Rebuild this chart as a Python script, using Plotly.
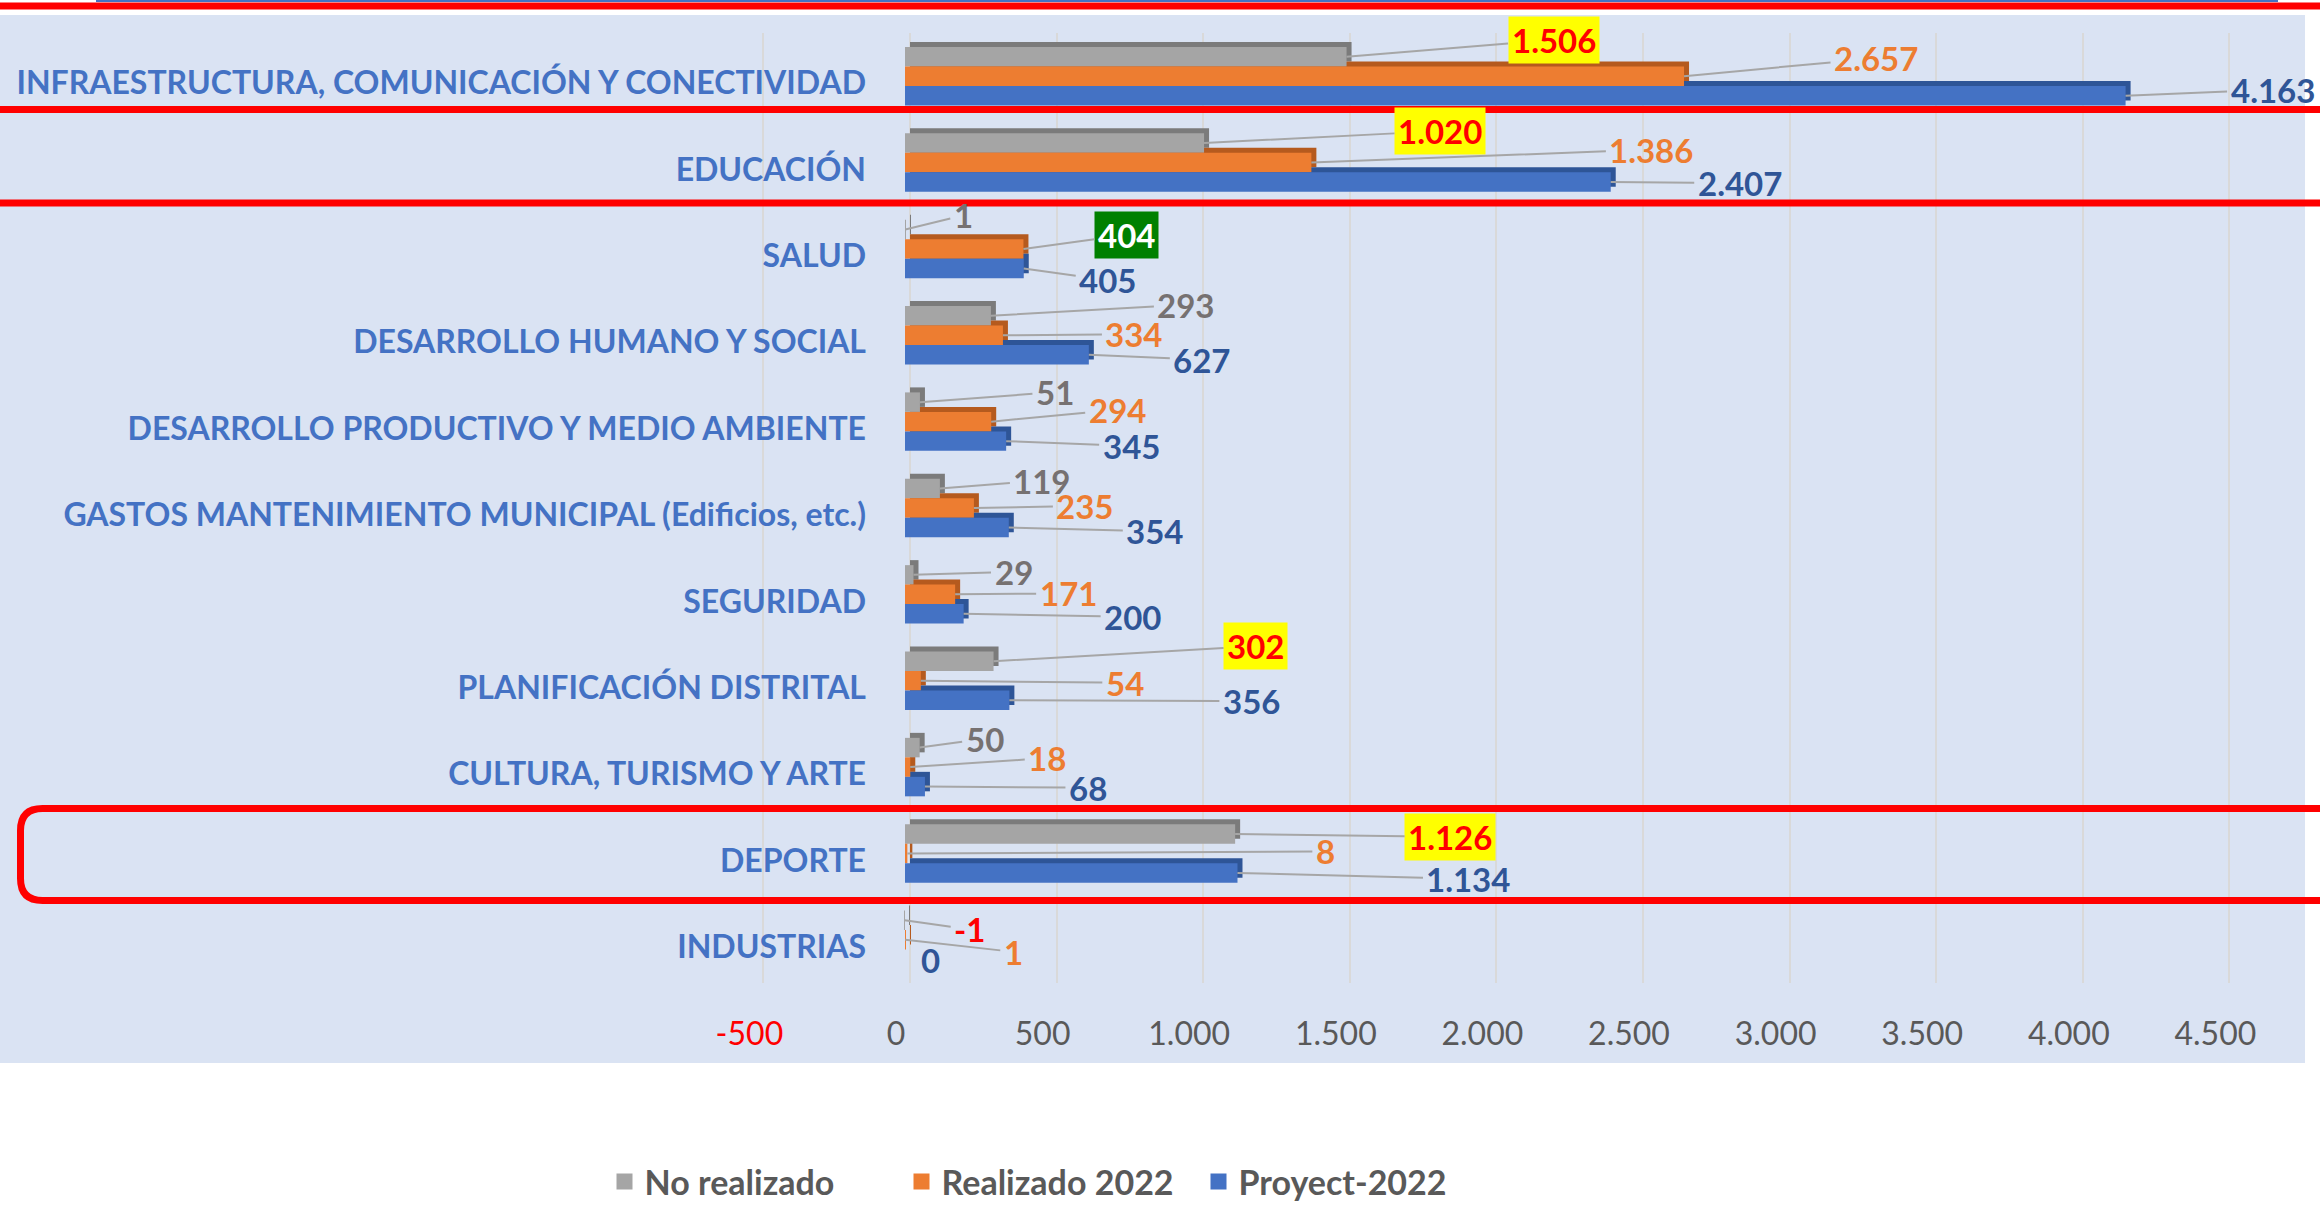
import plotly.graph_objects as go

# ---------------- data ----------------
categories = [
    "INFRAESTRUCTURA, COMUNICACIÓN Y CONECTIVIDAD",
    "EDUCACIÓN",
    "SALUD",
    "DESARROLLO HUMANO Y SOCIAL",
    "DESARROLLO PRODUCTIVO Y MEDIO AMBIENTE",
    "GASTOS MANTENIMIENTO MUNICIPAL (Edificios, etc.)",
    "SEGURIDAD",
    "PLANIFICACIÓN DISTRITAL",
    "CULTURA, TURISMO Y ARTE",
    "DEPORTE",
    "INDUSTRIAS",
]
no_realizado = [1506, 1020, 1, 293, 51, 119, 29, 302, 50, 1126, -1]
realizado_2022 = [2657, 1386, 404, 334, 294, 235, 171, 54, 18, 8, 1]
proyect_2022 = [4163, 2407, 405, 627, 345, 354, 200, 356, 68, 1134, 0]
series_names = ["No realizado", "Realizado 2022", "Proyect-2022"]
x_tickvals = [-500, 0, 500, 1000, 1500, 2000, 2500, 3000, 3500, 4000, 4500]

# ---------------- styling / placement ----------------
W, H = 2320, 1208
L, R, T, B = 0, 2305, 33, 983
ZERO_PX = 905
K = 146.6 / 500.0            # px per unit
CAT_PX = (B - T) / len(categories)
DEPTH = 5                    # 3D depth in px

front_colors = ["#A5A5A5", "#ED7D31", "#4472C4"]
side_colors = ["#7B7B7B", "#B55A1E", "#2E5597"]
label_colors = ["#767171", "#ED7D31", "#2F5597"]
FONT = "Lato"

# label offsets (px) from bar end: per series, per category
label_offsets = [
    [(207, -17), (236, -12), (58, -14), (195, -11), (135, -10), (102, -8), (100, -3), (262, -15), (65, -9), (215, 3), (65, 9)],
    [(192, -18), (340, -13), (103, -14), (131, -1), (126, -12), (111, -2), (113, -1), (204, 2), (137, -9), (418, -2), (108, 12)],
    [(147, -6), (129, 1), (84, 12), (113, 5), (125, 5), (146, 4), (169, 3), (242, 1), (163, 1), (231, 6), (25, 1)],
]
highlight = {
    (0, 0): "yellow", (0, 1): "yellow", (0, 7): "yellow", (0, 9): "yellow",
    (1, 2): "green", (0, 10): "red",
}
no_leader = {(2, 10)}

r0 = (L - ZERO_PX) / K
r1 = (R - ZERO_PX) / K
ysh = DEPTH / CAT_PX


def px_x(px):
    return (px - L) / (R - L)


def px_y(py):
    return (B - py) / (B - T)


def fmt(v):
    return f"{v:,}".replace(",", ".")


series = [no_realizado, realizado_2022, proyect_2022]

fig = go.Figure()

# 3D depth (shadow) bars on shifted axes
for i, vals in enumerate(series):
    fig.add_trace(go.Bar(
        x=vals, y=categories, orientation="h", xaxis="x", yaxis="y",
        marker=dict(color=side_colors[i], line=dict(width=0)),
        showlegend=False, hoverinfo="skip",
    ))

# front bars
for i, vals in enumerate(series):
    fig.add_trace(go.Bar(
        x=vals, y=categories, orientation="h", xaxis="x2", yaxis="y2",
        name=series_names[i], legendgroup=series_names[i], showlegend=False,
        marker=dict(color=front_colors[i], line=dict(width=0)),
    ))

# legend entries with larger square symbols
for i in range(3):
    fig.add_trace(go.Scatter(
        x=[None], y=[None], mode="markers", xaxis="x2", yaxis="y2",
        name=series_names[i], legendgroup=series_names[i],
        marker=dict(symbol="square", size=18, color=front_colors[i]),
    ))

bar_h = CAT_PX * (1 - 0.323) / 3
annotations = []
for i, vals in enumerate(series):
    yshift = [bar_h, 0, -bar_h][i]
    for j, v in enumerate(vals):
        dx, dy = label_offsets[i][j]
        hl = highlight.get((i, j))
        color = label_colors[i]
        bg = "rgba(0,0,0,0)"
        if hl == "yellow":
            color, bg = "#FF0000", "#FFFF00"
        elif hl == "green":
            color, bg = "#FFFFFF", "#008000"
        elif hl == "red":
            color = "#FF0000"
        annotations.append(dict(
            x=v, y=categories[j], xref="x2", yref="y2", yshift=yshift,
            text=fmt(v), showarrow=True, ax=dx, ay=dy,
            arrowhead=0, arrowwidth=2,
            arrowcolor="rgba(0,0,0,0)" if (i, j) in no_leader else "#A6A6A6",
            standoff=0, startstandoff=0,
            font=dict(family=FONT, size=33, color=color, weight="bold"),
            bgcolor=bg, borderpad=3,
        ))

ticktext = ['<span style="color:#FF0000">' + fmt(v) + '</span>' if v < 0 else fmt(v) for v in x_tickvals]

shapes = [
    dict(type="rect", xref="paper", yref="paper", layer="below",
         x0=px_x(0), x1=px_x(2305), y0=px_y(1063), y1=px_y(15),
         fillcolor="#DAE3F3", line=dict(width=0)),
    dict(type="line", xref="paper", yref="paper",
         x0=px_x(96), x1=px_x(2278), y0=px_y(1), y1=px_y(1),
         line=dict(color="#4472C4", width=2)),
]
for yline in (6, 109.5, 203):
    shapes.append(dict(type="line", xref="paper", yref="paper",
                       x0=px_x(-10), x1=px_x(2330), y0=px_y(yline), y1=px_y(yline),
                       line=dict(color="#FF0000", width=7)))
# rounded box around DEPORTE
bx, top, bot, rad = 20.5, 808.5, 900.5, 22
path = (f"M {px_x(2335)},{px_y(top)} L {px_x(bx + rad)},{px_y(top)} "
        f"Q {px_x(bx)},{px_y(top)} {px_x(bx)},{px_y(top + rad)} "
        f"L {px_x(bx)},{px_y(bot - rad)} "
        f"Q {px_x(bx)},{px_y(bot)} {px_x(bx + rad)},{px_y(bot)} "
        f"L {px_x(2335)},{px_y(bot)}")
shapes.append(dict(type="path", xref="paper", yref="paper", path=path,
                   line=dict(color="#FF0000", width=7)))

fig.update_layout(
    width=W, height=H,
    margin=dict(l=L, r=W - R, t=T, b=H - B, autoexpand=False),
    paper_bgcolor="#FFFFFF", plot_bgcolor="rgba(0,0,0,0)",
    barmode="group", bargap=0.323, bargroupgap=0,
    separators=",.",
    xaxis=dict(
        domain=[0, 1], anchor="y",
        range=[r0 - DEPTH / K, r1 - DEPTH / K],
        tickmode="array", tickvals=x_tickvals, ticktext=ticktext,
        showgrid=True, gridcolor="#D9D9D9", gridwidth=2, zeroline=False,
        showline=False, ticks="outside", ticklen=23, tickcolor="rgba(0,0,0,0)",
        ticklabelshift=-14,
        tickfont=dict(family=FONT, size=32, color="#595959"),
        automargin=False,
    ),
    yaxis=dict(
        type="category", categoryorder="array", categoryarray=categories,
        range=[len(categories) - 0.5 + ysh, -0.5 + ysh],
        showticklabels=False, showgrid=False, zeroline=False, showline=False,
        automargin=False,
    ),
    xaxis2=dict(
        overlaying="x", anchor="y2", range=[r0, r1],
        showgrid=False, zeroline=False, showticklabels=False, showline=False,
        automargin=False,
    ),
    yaxis2=dict(
        overlaying="y", anchor="free", position=px_x(866), side="left",
        type="category", categoryorder="array", categoryarray=categories,
        range=[len(categories) - 0.5, -0.5],
        showgrid=False, zeroline=False, showline=False, ticks="",
        ticklabelshift=-7,
        tickfont=dict(family=FONT, size=32, color="#4472C4", weight="bold"),
        automargin=False,
    ),
    legend=dict(
        orientation="h", xref="container", yref="container",
        x=1050 / W, xanchor="center", y=1 - 1182 / H, yanchor="middle",
        font=dict(family=FONT, size=34, color="#595959", weight="bold"),
        bgcolor="rgba(0,0,0,0)", itemsizing="trace",
        entrywidth=252, entrywidthmode="pixels",
    ),
    annotations=annotations,
    shapes=shapes,
    showlegend=True,
)

fig.write_html("out.html", config={"displayModeBar": False},
               post_script="document.body.style.margin='0px';")
